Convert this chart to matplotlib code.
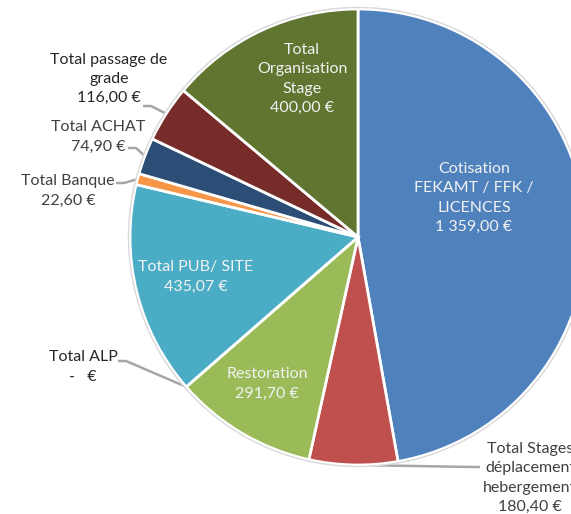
import matplotlib.pyplot as plt
import numpy as np

# données du camembert (sens horaire depuis midi)
categories = ['Cotisation\nFEKAMT / FFK /\nLICENCES',
              'Total Stages\ndéplacement\nhebergement',
              'Restoration',
              'Total ALP',
              'Total PUB/ SITE',
              'Total Banque',
              'Total ACHAT',
              'Total passage de\ngrade',
              'Total\nOrganisation\nStage']
valeurs = [1359.00, 180.40, 291.70, 0.0, 435.07, 22.60, 74.90, 116.00, 400.00]
couleurs = ['#4F81BD', '#C0504D', '#9BBB59', '#8064A2', '#4BACC6',
            '#F79646', '#2C4D75', '#772C2A', '#5F7530']


def euro(v):
    if v == 0:
        return '-   €'
    ent = int(v)
    dec = int(round((v - ent) * 100))
    s = '{:,}'.format(ent).replace(',', ' ')
    return '{},{:02d} €'.format(s, dec)


plt.rcParams['font.family'] = ['Lato', 'DejaVu Sans']

W, H = 571, 514
fig = plt.figure(figsize=(W / 100, H / 100), dpi=100)
ax = fig.add_axes([0, 0, 1, 1])
ax.set_xlim(0, W)
ax.set_ylim(0, H)
ax.set_aspect('equal')
ax.axis('off')

cx, cy, R = 358, H - 237, 228
wedges, _ = ax.pie(valeurs, colors=couleurs, startangle=90, counterclock=False,
                   center=(cx, cy), radius=R, frame=True,
                   wedgeprops=dict(edgecolor='white', linewidth=2))
ax.set_xlim(0, W)
ax.set_ylim(0, H)
ax.axis('off')
ax.add_patch(plt.Circle((cx, cy), R + 1.5, fill=False, ec='#d9d9d9', lw=1))

# position des étiquettes (pixels depuis le haut) : (x, y, dedans?, coude)
pos = [(474, 198, True, None),
       (530, 478, False, (480, 467)),
       (267, 384, True, None),
       (83, 367, False, (118, 361)),
       (196, 277, True, None),
       (68, 191, False, (116, 183)),
       (98, 137, False, (128, 148)),
       (109, 79, False, (143, 106)),
       (302, 79, True, None)]

for w, cat, v, (x, y, dedans, coude) in zip(wedges, categories, valeurs, pos):
    txt = cat + '\n' + euro(v)
    col = '#f2f2f2' if dedans else '#262626'
    if cat in ('Total ACHAT', 'Total Banque') or cat.startswith('Total Stages'):
        col = '#404040'
    ax.text(x, H - y, txt, ha='center', va='center', fontsize=11.5,
            color=col, linespacing=1.48)
    if coude is not None:
        a = np.deg2rad((w.theta1 + w.theta2) / 2)
        ex = w.center[0] + w.r * np.cos(a)
        ey = w.center[1] + w.r * np.sin(a)
        ox, oy = coude[0], H - coude[1]
        dx = 8 if ox < cx else -8
        ax.plot([ox, ox + dx, ex], [oy, oy, ey], color='#a6a6a6', lw=1.8,
                solid_capstyle='butt', zorder=0.5)

fig.savefig('out.png', dpi=100)
